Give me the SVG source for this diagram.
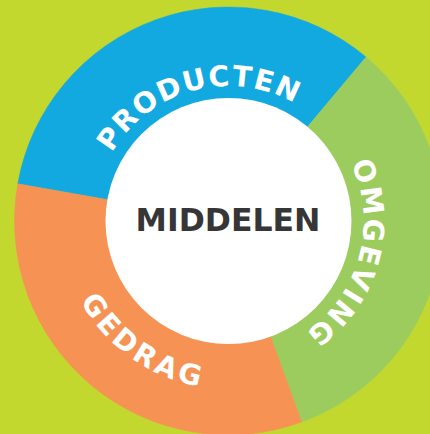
<svg xmlns="http://www.w3.org/2000/svg" width="430" height="434" viewBox="0 0 430 434">
  <defs>
    <style>
      .lbl { font-family: "DejaVu Sans", Verdana, sans-serif; font-weight: bold; fill: #ffffff; font-size: 28.5px; }
      .center { font-family: "DejaVu Sans", Verdana, sans-serif; font-weight: bold; fill: #363636; font-size: 31.5px; }
    </style>
    <path id="arcP" d="M95.55,244.44 A135,135 0 0 1 355.36,174.83" fill="none"/>
    <path id="arcO" d="M275.34,94.38 A135,135 0 0 1 204.36,353.83" fill="none"/>
    <path id="arcG" d="M83.45,136.24 A168,168 0 0 0 356.64,329.66" fill="none"/>
  </defs>
  <rect x="0" y="0" width="430" height="434" fill="#c3d82f"/>
  <g id="connectors"></g>
  <g id="producten">
    <path d="M228.5,221 L17.75,183.84 A214,214 0 0 1 366.06,57.07 Z" fill="#12a9e0" stroke="#12a9e0" stroke-width="0.5"/>
    <text class="lbl" letter-spacing="1.5"><textPath href="#arcP" startOffset="50%" text-anchor="middle">PRODUCTEN</textPath></text>
  </g>
  <g id="omgeving">
    <path d="M228.5,221 L366.06,57.07 A214,214 0 0 1 301.69,422.09 Z" fill="#9ccc5e" stroke="#9ccc5e" stroke-width="0.5"/>
    <text class="lbl" letter-spacing="2"><textPath href="#arcO" startOffset="50%" text-anchor="middle">OMGEVING</textPath></text>
  </g>
  <g id="gedrag">
    <path d="M228.5,221 L301.69,422.09 A214,214 0 0 1 17.75,183.84 Z" fill="#f69253" stroke="#f69253" stroke-width="0.5"/>
    <text class="lbl" letter-spacing="3.5"><textPath href="#arcG" startOffset="50%" text-anchor="middle">GEDRAG</textPath></text>
  </g>
  <g id="middelen">
    <circle cx="228.5" cy="221" r="123" fill="#ffffff"/>
    <text class="center" x="228" y="231" text-anchor="middle">MIDDELEN</text>
  </g>
</svg>
